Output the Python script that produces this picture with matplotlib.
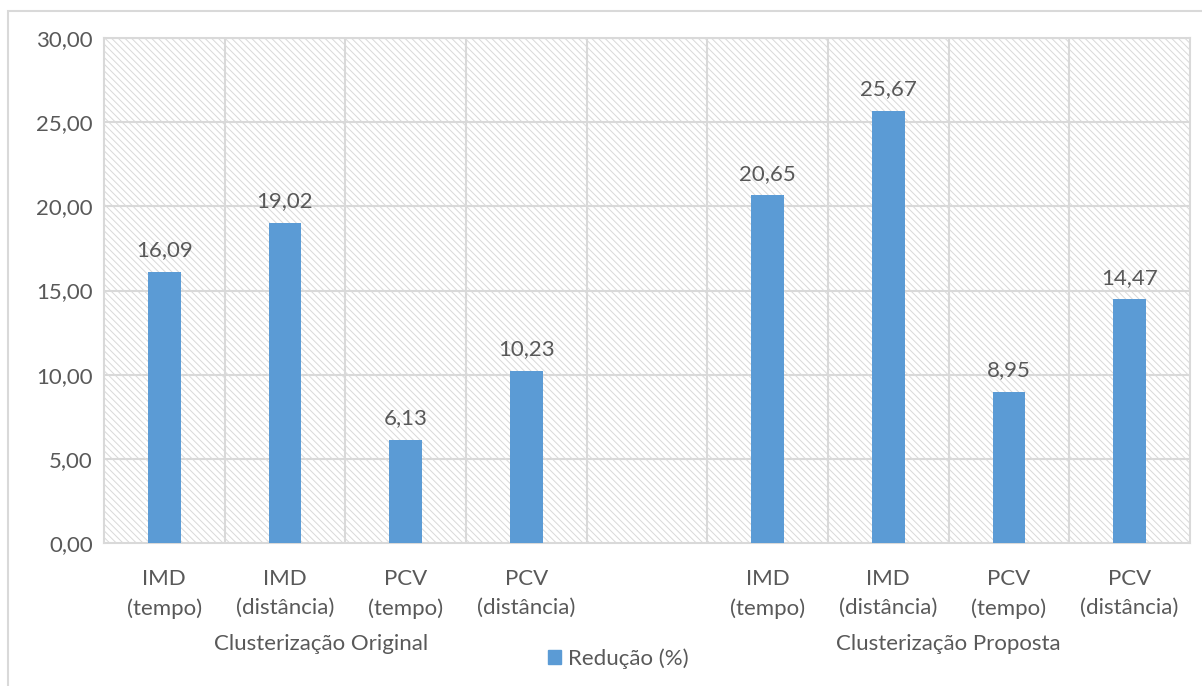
import numpy as np
import matplotlib
matplotlib.use("Agg")
import matplotlib.pyplot as plt
from matplotlib.patches import Rectangle

plt.rcParams['font.family'] = ['Lato', 'DejaVu Sans']
plt.rcParams['hatch.linewidth'] = 0.7

# reduction values, one per method; slot 4 is left empty between the groups
categorias = ["IMD\n(tempo)", "IMD\n(distância)", "PCV\n(tempo)", "PCV\n(distância)",
              "",
              "IMD\n(tempo)", "IMD\n(distância)", "PCV\n(tempo)", "PCV\n(distância)"]
reducao = [16.09, 19.02, 6.13, 10.23, None, 20.65, 25.67, 8.95, 14.47]
grupos = ["Clusterização Original", "Clusterização Proposta"]
yticks = [0, 5, 10, 15, 20, 25, 30]

azul = '#5B9BD5'
cinza_txt = '#595959'
cinza_grid = '#d9d9d9'
fs = 16

fig = plt.figure(figsize=(12.02, 6.86), dpi=100)
ax = fig.add_axes([0.0865, 0.2085, 0.9035, 0.736])

# hatched background of the plot area
ax.patch.set_visible(False)
ax.add_patch(Rectangle((0, 0), 1, 1, transform=ax.transAxes, facecolor='white',
                       edgecolor='#d9d9d9', hatch='\\\\\\\\\\', linewidth=0, zorder=0))

x = np.arange(len(categorias))
xs = [i for i, v in zip(x, reducao) if v is not None]
vs = [v for v in reducao if v is not None]
ax.bar(xs, vs, width=0.27, color=azul, zorder=3)

for xi, v in zip(xs, vs):
    ax.text(xi, v + 0.7, f"{v:.2f}".replace('.', ','), ha='center', va='bottom',
            fontsize=fs, color=cinza_txt, zorder=4)

ax.set_xlim(-0.5, len(categorias) - 0.5)
ax.set_ylim(0, 30)
ax.set_yticks(yticks)
ax.set_yticklabels([f"{t:.2f}".replace('.', ',') for t in yticks])
ax.set_xticks(x)
ax.set_xticklabels(categorias, linespacing=1.55)
ax.tick_params(axis='both', length=0, colors=cinza_txt, labelsize=fs)
ax.tick_params(axis='x', pad=19)
ax.tick_params(axis='y', pad=8)

# grid: horizontal at the ticks, vertical between category slots
for t in yticks[1:]:
    ax.axhline(t, color=cinza_grid, lw=1.5, zorder=1)
for b in np.arange(0.5, len(categorias) - 0.5):
    ax.axvline(b, color=cinza_grid, lw=1.5, zorder=1)
for s in ax.spines.values():
    s.set_color(cinza_grid)
    s.set_linewidth(1.5)

# group labels under the tick labels
ax.text(1.3, -0.2, grupos[0], transform=ax.get_xaxis_transform(), ha='center',
        va='center', fontsize=fs, color=cinza_txt)
ax.text(6.5, -0.2, grupos[1], transform=ax.get_xaxis_transform(), ha='center',
        va='center', fontsize=fs, color=cinza_txt)

handle = Rectangle((0, 0), 1, 1, color=azul)
fig.legend([handle], ["Redução (%)"], loc='center', bbox_to_anchor=(0.514, 0.04),
           frameon=False, fontsize=fs, labelcolor=cinza_txt, handlelength=0.6,
           handleheight=0.6, handletextpad=0.3)

# chart border
fig.add_artist(Rectangle((0.0067, -0.01), 1.0, 0.994, transform=fig.transFigure,
                         fill=False, edgecolor=cinza_grid, lw=1.5))

fig.savefig("out.png", dpi=100)
